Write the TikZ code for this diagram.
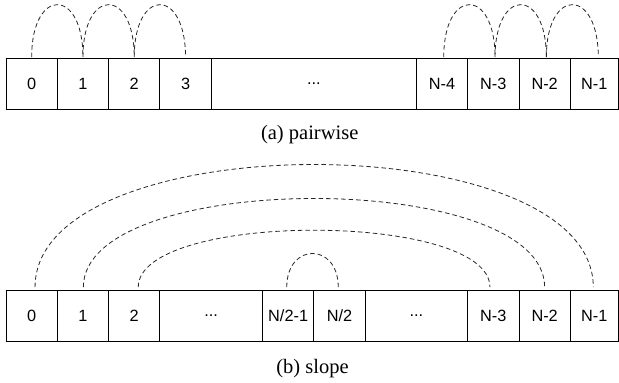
\documentclass[tikz,border=0pt]{standalone}
\usepackage{fontspec}
\setmainfont{Liberation Serif}
\newfontfamily\cellfont{Liberation Sans}
\usetikzlibrary{positioning}

\begin{document}
\begin{tikzpicture}[x=1pt, y=1pt,
  cell/.style={draw=black, line width=1pt, minimum width=51.3pt, minimum height=51.3pt,
    inner sep=0pt, outer sep=0pt, font=\cellfont\fontsize{16.3}{19}\selectfont},
  link/.style={draw=black!85, line width=0.8pt, dash pattern=on 4.5pt off 3pt},
  caption/.style={anchor=base, font=\fontsize{20.5}{24}\selectfont}]

% Fix the page size
\useasboundingbox (0,0) rectangle (619,-383);

% Upper row of cells
\node[cell] (t0) at (31.65,-83.8) {0};
\node[cell, right=0pt of t0] (t1) {1};
\node[cell, right=0pt of t1] (t2) {2};
\node[cell, right=0pt of t2] (t3) {3};
\node[cell, minimum width=205.2pt, right=0pt of t3] (tdots) {...};
\node[cell, right=0pt of tdots] (t8) {N-4};
\node[cell, right=0pt of t8] (t9) {N-3};
\node[cell, right=0pt of t9] (t10) {N-2};
\node[cell, minimum width=48pt, right=0pt of t10] (t11) {N-1};

% Pairwise links
\draw[link] ([yshift=1pt]t0.north) .. controls +(0,70) and +(0,70) .. ([yshift=1pt]t1.north);
\draw[link] ([yshift=1pt]t1.north) .. controls +(0,70) and +(0,70) .. ([yshift=1pt]t2.north);
\draw[link] ([yshift=1pt]t2.north) .. controls +(0,70) and +(0,70) .. ([yshift=1pt]t3.north);
\draw[link] ([xshift=1.7pt,yshift=1pt]t8.north) .. controls +(0,70) and +(0,70) .. ([xshift=1.7pt,yshift=1pt]t9.north);
\draw[link] ([xshift=1.7pt,yshift=1pt]t9.north) .. controls +(0,70) and +(0,70) .. ([xshift=1.7pt,yshift=1pt]t10.north);
\draw[link] ([xshift=1.7pt,yshift=1pt]t10.north) .. controls +(0,70) and +(0,70) .. ([xshift=4pt,yshift=1pt]t11.north);

% Caption (a)
\node[caption] (capa) at (309.7,-139) {(a) pairwise};

% Lower row of cells
\node[cell] (b0) at (31.65,-315.85) {0};
\node[cell, right=0pt of b0] (b1) {1};
\node[cell, right=0pt of b1] (b2) {2};
\node[cell, minimum width=102.6pt, right=0pt of b2] (bdotsl) {...};
\node[cell, right=0pt of bdotsl] (b5) {N/2-1};
\node[cell, right=0pt of b5] (b6) {N/2};
\node[cell, minimum width=102.6pt, right=0pt of b6] (bdotsr) {...};
\node[cell, right=0pt of bdotsr] (b9) {N-3};
\node[cell, right=0pt of b9] (b10) {N-2};
\node[cell, minimum width=48pt, right=0pt of b10] (b11) {N-1};

% Slope links
\draw[link] ([xshift=3.4pt,yshift=3pt]b0.north) .. controls +(0,163.6) and +(0,163.6) .. ([xshift=-1pt,yshift=3pt]b11.north);
\draw[link] ([xshift=0.4pt,yshift=3pt]b1.north) .. controls +(0,118.3) and +(0,118.3) .. ([yshift=3pt]b10.north);
\draw[link] ([xshift=4pt,yshift=3pt]b2.north) .. controls +(0,76) and +(0,76) .. ([xshift=-3.4pt,yshift=3pt]b9.north);
\draw[link] ([xshift=-1.4pt,yshift=3pt]b5.north) .. controls +(0,45) and +(0,45) .. ([xshift=-1.2pt,yshift=3pt]b6.north);

% Caption (b)
\node[caption] (capb) at (312.5,-373) {(b) slope};

\end{tikzpicture}
\end{document}
